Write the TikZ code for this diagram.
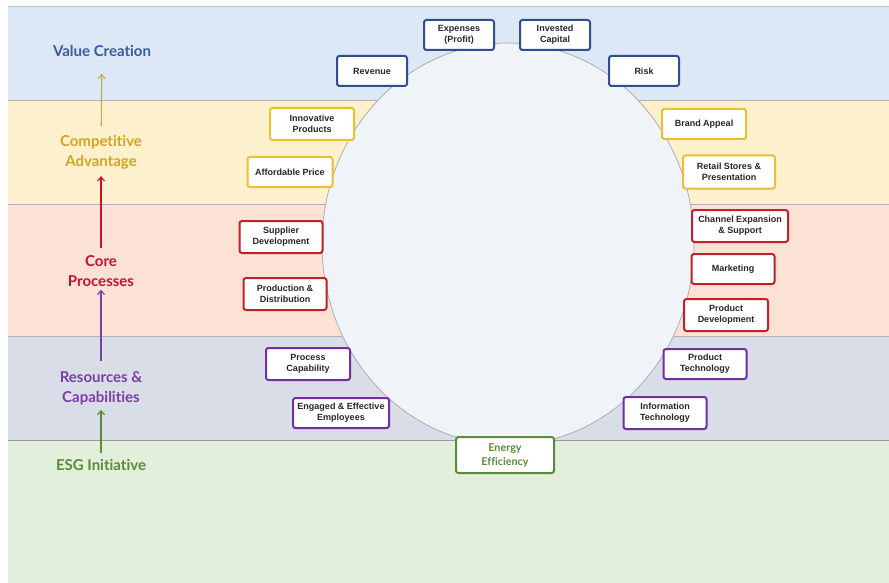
\documentclass[tikz,border=0pt]{standalone}
\usepackage{fontspec}
\setmainfont{Liberation Sans}
\newfontfamily\latofont[Ligatures={NoCommon}]{Lato}
\usetikzlibrary{arrows.meta,shadows}
\definecolor{bandblue}{HTML}{DCE8F5}
\definecolor{bandyellow}{HTML}{FDF0CC}
\definecolor{bandred}{HTML}{FBE2D4}
\definecolor{bandgray}{HTML}{D8DDE8}
\definecolor{bandgreen}{HTML}{E2EFDA}
\definecolor{cblue}{HTML}{2F4E8C}
\definecolor{cyellow}{HTML}{E8C030}
\definecolor{cred}{HTML}{C0202A}
\definecolor{cpurple}{HTML}{7030A0}
\definecolor{cgreen}{HTML}{5A8A3A}
\definecolor{tblue}{HTML}{3B5A9A}
\definecolor{tgold}{HTML}{D4A520}
\definecolor{agold}{HTML}{C8A550}
\definecolor{tred}{HTML}{C8102E}
\definecolor{tpurple}{HTML}{7A3FA0}
\definecolor{tgreen}{HTML}{5A8A3A}
\definecolor{ellfill}{HTML}{F0F3F7}
\begin{document}
\begin{tikzpicture}[x=1pt,y=-1pt,
  box/.style={draw, rounded corners=2.5pt, line width=2pt, fill=white,
    align=center, inner sep=1pt, minimum height=30pt,
    font=\fontsize{9}{10.8}\selectfont\bfseries, text=black!85,
    drop shadow={opacity=0.25, shadow xshift=0.8pt, shadow yshift=-0.8pt}},
  bluebox/.style={box, draw=cblue},
  yelbox/.style={box, draw=cyellow},
  redbox/.style={box, draw=cred},
  purbox/.style={box, draw=cpurple},
  grnbox/.style={box, draw=cgreen, text=cgreen,
    font=\latofont\fontsize{10.8}{14}\selectfont\bfseries},
  lvl/.style={align=center, inner sep=0pt,
    font=\latofont\fontsize{15}{20}\selectfont\bfseries},
  uparrow/.style={line width=1.1pt, -{Straight Barb[length=4pt,width=7pt]}}
]
\useasboundingbox (0,0) rectangle (889,583);
\fill[white] (0,0) rectangle (889,583);
% bands
\fill[bandblue] (8,6) rectangle (889,100);
\fill[bandyellow] (8,100) rectangle (889,204);
\fill[bandred] (8,204) rectangle (889,336);
\fill[bandgray] (8,336) rectangle (889,440);
\fill[bandgreen] (8,440) rectangle (889,583);
\draw[black!25, line width=0.6pt] (8,6) -- (889,6);
\draw[black!30, line width=0.8pt] (8,100) -- (889,100);
\draw[black!30, line width=0.8pt] (8,204) -- (889,204);
\draw[black!30, line width=0.8pt] (8,336) -- (889,336);
\draw[black!40, line width=0.8pt] (8,440) -- (889,440);
% central ellipse
\draw[fill=ellfill, draw=black!35, line width=0.7pt] (508,244) ellipse [x radius=186, y radius=201];
% value creation boxes
\node[bluebox, minimum width=70pt] (exp) at (459,35) {Expenses\\(Profit)};
\node[bluebox, minimum width=70pt] (inv) at (555,35) {Invested\\Capital};
\node[bluebox, minimum width=70pt] (rev) at (372,71) {Revenue};
\node[bluebox, minimum width=70pt] (risk) at (644,71) {Risk};
% competitive advantage
\node[yelbox, minimum width=84pt, minimum height=32pt] (innov) at (312,124) {Innovative\\Products};
\node[yelbox, minimum width=85pt] (afford) at (290,172) {Affordable Price};
\node[yelbox, minimum width=84pt] (brand) at (704,124) {Brand Appeal};
\node[yelbox, minimum width=92pt, minimum height=33pt] (retail) at (729,172) {Retail Stores \&\\Presentation};
% core processes
\node[redbox, minimum width=83pt, minimum height=32pt] (supp) at (281,237) {Supplier\\Development};
\node[redbox, minimum width=83pt, minimum height=32pt] (prod) at (285,294) {Production \&\\Distribution};
\node[redbox, minimum width=96pt, minimum height=32pt] (chan) at (740,226) {Channel Expansion\\\& Support};
\node[redbox, minimum width=83pt] (mark) at (733,269) {Marketing};
\node[redbox, minimum width=84pt, minimum height=32pt] (pdev) at (726,315) {Product\\Development};
% resources & capabilities
\node[purbox, minimum width=84pt, minimum height=32pt] (proc) at (308,364) {Process\\Capability};
\node[purbox, minimum width=96pt] (emp) at (341,413) {Engaged \& Effective\\Employees};
\node[purbox, minimum width=83pt] (ptech) at (705,364) {Product\\Technology};
\node[purbox, minimum width=83pt, minimum height=32pt] (itech) at (665,413) {Information\\Technology};
% ESG
\node[grnbox, minimum width=98pt, minimum height=36pt] (energy) at (505,455) {Energy\\Efficiency};
% level labels
\node[lvl, text=tblue] (vc) at (102,51) {Value Creation};
\node[lvl, text=tgold] (ca) at (101,152) {Competitive\\Advantage};
\node[lvl, text=tred] (cp) at (101,271) {Core\\Processes};
\node[lvl, text=tpurple] (rc) at (101,388) {Resources \&\\Capabilities};
\node[lvl, text=tgreen] (esg) at (101,465) {ESG Initiative};
% arrows
\draw[uparrow, agold, shorten <=9pt, shorten >=17pt] (ca) -- (vc);
\draw[uparrow, tred, shorten <=7pt, shorten >=7pt] (cp) -- (ca);
\draw[uparrow, tpurple, shorten <=10pt, shorten >=3pt] (rc) -- (cp);
\draw[uparrow, tgreen, shorten <=6pt, shorten >=5pt] (esg) -- (rc);
\end{tikzpicture}
\end{document}
